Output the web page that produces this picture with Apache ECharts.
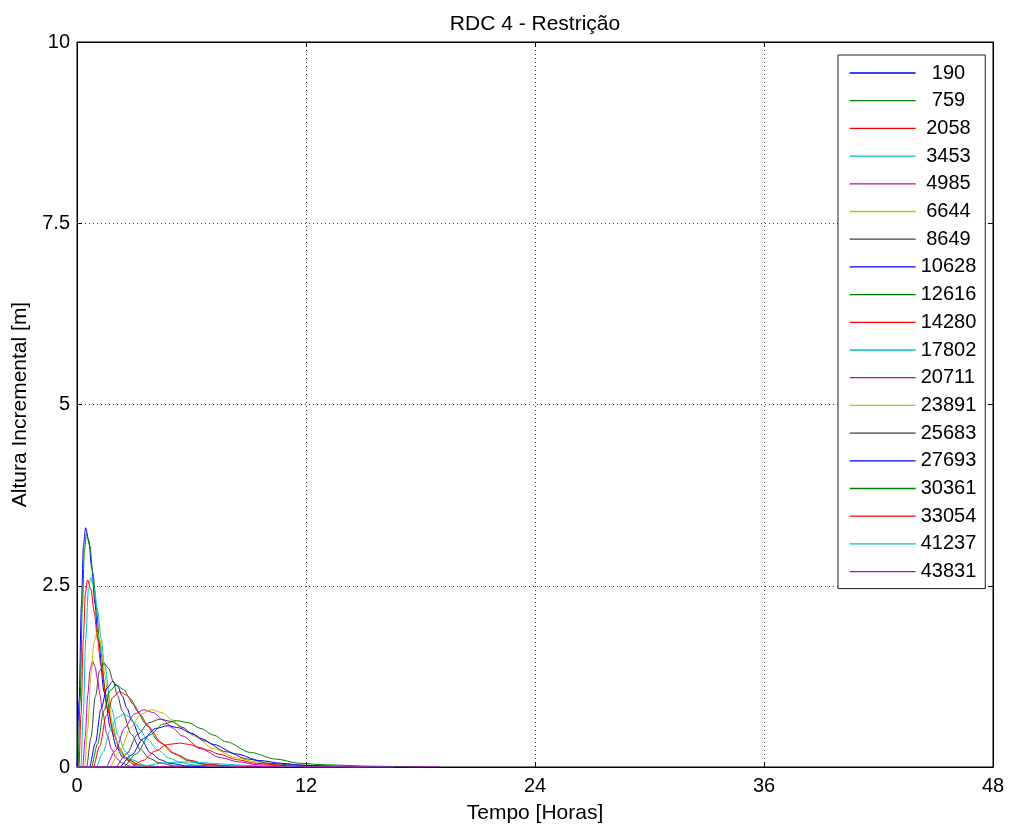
<!DOCTYPE html>
<html>
<head>
<meta charset="utf-8">
<title>RDC 4 - Restrição</title>
<script src="https://cdn.jsdelivr.net/npm/echarts@6/dist/echarts.min.js"></script>
<style>
  html, body { margin: 0; padding: 0; background: #fff; }
  #chart { width: 1011px; height: 829px; }
</style>
</head>
<body>
<div id="chart"></div>
<script>
// Distance of each station (legend entries)
const distances = [190, 759, 2058, 3453, 4985, 6644, 8649, 10628, 12616, 14280,
                   17802, 20711, 23891, 25683, 27693, 30361, 33054, 41237, 43831];

// Hydrographs: [time (h), incremental height (m)]
const h190   = [[0,0],[0.11,0.92],[0.23,2.24],[0.34,3.06],[0.45,3.30],[0.61,3.13],[0.78,2.73],[0.94,2.25],[1.10,1.79],[1.43,1.03],[1.75,0.54],[2.08,0.27],[2.40,0.13],[3.05,0.03],[3.70,0.01],[4.40,0]];
const h759   = [[0,0],[0.05,0],[0.16,0.90],[0.28,2.19],[0.39,2.99],[0.50,3.22],[0.67,3.05],[0.84,2.67],[1.01,2.20],[1.18,1.74],[1.52,1.00],[1.86,0.53],[2.20,0.27],[2.54,0.13],[3.22,0.03],[3.90,0.01],[4.60,0]];
const h2058  = [[0,0],[0.10,0],[0.21,0.72],[0.33,1.75],[0.44,2.39],[0.55,2.58],[0.73,2.45],[0.90,2.14],[1.08,1.76],[1.25,1.40],[1.60,0.80],[1.95,0.43],[2.30,0.21],[2.65,0.10],[3.35,0.02],[4.05,0]];
const h3453  = [[0,0],[0.20,0],[0.33,0.73],[0.46,1.77],[0.59,2.42],[0.72,2.61],[0.90,2.47],[1.08,2.16],[1.26,1.78],[1.44,1.41],[1.80,0.81],[2.16,0.43],[2.52,0.22],[2.88,0.10],[3.60,0.02],[4.32,0]];
const h4985  = [[0,0],[0.30,0],[0.43,0.41],[0.56,0.99],[0.69,1.35],[0.82,1.46],[0.95,1.38],[1.07,1.21],[1.20,1.00],[1.32,0.79],[1.57,0.45],[1.82,0.24],[2.07,0.12],[2.32,0.06],[2.82,0.01],[3.32,0]];
const h6644  = [[0,0],[0.40,0],[0.56,0.52],[0.73,1.26],[0.89,1.72],[1.05,1.86],[1.19,1.76],[1.33,1.54],[1.46,1.27],[1.60,1.01],[1.88,0.58],[2.15,0.31],[2.43,0.15],[2.70,0.07],[3.25,0.02],[3.80,0]];
const h8649  = [[0,0],[0.50,0],[0.73,0.40],[0.96,0.97],[1.19,1.33],[1.42,1.43],[1.66,1.36],[1.90,1.18],[2.13,0.98],[2.37,0.77],[2.85,0.45],[3.32,0.24],[3.80,0.12],[4.27,0.06],[5.22,0.01],[6.17,0]];
const h10628 = [[0,0],[0.65,0],[0.96,0.33],[1.26,0.80],[1.57,1.09],[1.87,1.18],[2.12,1.12],[2.37,0.98],[2.62,0.81],[2.87,0.64],[3.37,0.37],[3.87,0.19],[4.37,0.10],[4.87,0.05],[5.87,0.01],[6.87,0]];
const h12616 = [[0,0],[0.75,0],[1.08,0.32],[1.40,0.77],[1.73,1.05],[2.05,1.13],[2.43,1.07],[2.80,0.94],[3.18,0.77],[3.55,0.61],[4.30,0.35],[5.05,0.19],[5.80,0.09],[6.55,0.04],[8.05,0.01],[9.55,0]];
const h14280 = [[0,0],[0.85,0],[1.19,0.29],[1.54,0.71],[1.88,0.96],[2.22,1.04],[2.60,0.99],[2.97,0.86],[3.35,0.71],[3.72,0.56],[4.47,0.32],[5.22,0.17],[5.97,0.09],[6.72,0.04],[8.22,0.01],[9.72,0]];
const h17802 = [[0,0],[1.00,0],[1.36,0.20],[1.73,0.50],[2.09,0.68],[2.45,0.73],[2.75,0.69],[3.05,0.60],[3.35,0.50],[3.65,0.39],[4.25,0.23],[4.85,0.12],[5.45,0.06],[6.05,0.03],[7.25,0.01],[8.45,0]];
const h20711 = [[0,0],[1.50,0],[2.00,0.22],[2.50,0.54],[3.00,0.73],[3.50,0.79],[4.00,0.75],[4.50,0.65],[5.00,0.54],[5.50,0.43],[6.50,0.25],[7.50,0.13],[8.50,0.07],[9.50,0.03],[11.50,0.01],[13.50,0]];
const h23891 = [[0,0],[1.70,0],[2.25,0.22],[2.80,0.54],[3.35,0.73],[3.90,0.79],[4.45,0.75],[5.00,0.65],[5.55,0.54],[6.10,0.43],[7.20,0.25],[8.30,0.13],[9.40,0.07],[10.50,0.03],[12.70,0.01],[14.90,0]];
const h25683 = [[0,0],[2.00,0],[2.59,0.18],[3.18,0.45],[3.76,0.61],[4.35,0.66],[4.93,0.63],[5.50,0.55],[6.08,0.45],[6.65,0.36],[7.80,0.21],[8.95,0.11],[10.10,0.05],[11.25,0.03],[13.55,0.01],[15.85,0]];
const h27693 = [[0,0],[2.20,0],[2.84,0.16],[3.48,0.39],[4.11,0.53],[4.75,0.57],[5.35,0.54],[5.95,0.47],[6.55,0.39],[7.15,0.31],[8.35,0.18],[9.55,0.09],[10.75,0.05],[11.95,0.02],[14.35,0.005],[16.75,0]];
const h30361 = [[0,0],[2.40,0],[3.10,0.18],[3.80,0.44],[4.50,0.59],[5.20,0.64],[5.85,0.61],[6.50,0.53],[7.15,0.44],[7.80,0.35],[9.10,0.20],[10.40,0.11],[11.70,0.05],[13.00,0.03],[15.60,0.01],[18.20,0]];
const h33054 = [[0,0],[2.80,0],[3.45,0.09],[4.10,0.22],[4.75,0.31],[5.40,0.33],[5.90,0.31],[6.40,0.27],[6.90,0.23],[7.40,0.18],[8.40,0.10],[9.40,0.05],[10.40,0.03],[11.40,0.01],[13.40,0.003],[15.40,0]];
const h41237 = [[0,0],[3.00,0],[3.65,0.020],[4.30,0.048],[4.95,0.065],[5.60,0.070],[6.15,0.066],[6.70,0.058],[7.25,0.048],[7.80,0.038],[8.90,0.022],[10.00,0.012],[11.10,0.006],[12.20,0.003],[14.40,0.001],[16.60,0]];
const h43831 = [[0,0],[3.50,0],[4.25,0.004],[5.00,0.010],[5.75,0.014],[6.50,0.015],[7.13,0.014],[7.75,0.012],[8.38,0.010],[9.00,0.008],[10.25,0.005],[11.50,0.002],[12.75,0.001],[14.00,0.001],[16.50,0],[19.00,0]];

const hydrographs = [h190, h759, h2058, h3453, h4985, h6644, h8649, h10628, h12616, h14280,
                     h17802, h20711, h23891, h25683, h27693, h30361, h33054, h41237, h43831];

// Axis ticks
const xTicks = [0, 12, 24, 36, 48];
const yTicks = [0, 2.5, 5, 7.5, 10];

// Classic line colour order: b g r c m y k
const colorOrder = ['#0000ff', '#008000', '#ff0000', '#00bfbf', '#bf00bf', '#bfbf00', '#404040'];

const FONT = "'Liberation Sans', Arial, sans-serif";
const names = distances.map(d => String(d).padStart(5, ' '));

const chart = echarts.init(document.getElementById('chart'), null, { renderer: 'canvas' });

const series = hydrographs.map((data, i) => ({
  name: names[i],
  type: 'line',
  data: data,
  xAxisIndex: 0,
  yAxisIndex: 0,
  symbol: 'none',
  smooth: 0.3,
  smoothMonotone: 'x',
  clip: true,
  lineStyle: { width: 1, color: colorOrder[i % colorOrder.length] },
  itemStyle: { color: colorOrder[i % colorOrder.length] },
  emphasis: { disabled: true }
}));

const gridLine = { show: true, lineStyle: { color: '#3a3a3a', width: 1, type: [1, 3] } };
const tickIn = { show: true, inside: true, length: 5, lineStyle: { color: '#000' } };

chart.setOption({
  animation: false,
  backgroundColor: '#fff',
  title: {
    text: 'RDC 4 - Restrição',
    left: 530,
    top: 9,
    textAlign: 'center',
    textStyle: { fontFamily: FONT, fontSize: 21, fontWeight: 'normal', color: '#000' }
  },
  grid: {
    left: 77, right: 18, top: 42, bottom: 61,
    show: true, borderColor: '#000', borderWidth: 1, backgroundColor: '#fff'
  },
  legend: {
    orient: 'vertical',
    left: 838,
    top: 55,
    padding: [6, 9, 5, 11],
    itemWidth: 66,
    itemHeight: 14,
    itemGap: 3.7,
    backgroundColor: '#fff',
    borderColor: '#222',
    borderWidth: 1,
    borderRadius: 0,
    selectedMode: false,
    itemStyle: { opacity: 0 },
    lineStyle: { width: 1.3, opacity: 1 },
    textStyle: { fontFamily: FONT, fontSize: 20, color: '#000', lineHeight: 24 },
    data: names
  },
  xAxis: [
    {
      type: 'value', position: 'bottom',
      min: xTicks[0], max: xTicks[xTicks.length - 1], interval: xTicks[1] - xTicks[0],
      name: 'Tempo [Horas]', nameLocation: 'middle', nameGap: 36,
      nameTextStyle: { fontFamily: FONT, fontSize: 21, color: '#000' },
      axisLine: { show: true, onZero: false, lineStyle: { color: '#000', width: 1 } },
      axisTick: tickIn,
      axisLabel: { fontFamily: FONT, fontSize: 20, color: '#000', margin: 9 },
      splitLine: gridLine
    },
    {
      type: 'value', position: 'top',
      min: xTicks[0], max: xTicks[xTicks.length - 1], interval: xTicks[1] - xTicks[0],
      axisLine: { show: true, onZero: false, lineStyle: { color: '#000', width: 1 } },
      axisTick: tickIn,
      axisLabel: { show: false },
      splitLine: { show: false }
    }
  ],
  yAxis: [
    {
      type: 'value', position: 'left',
      min: yTicks[0], max: yTicks[yTicks.length - 1], interval: yTicks[1] - yTicks[0],
      name: 'Altura Incremental [m]', nameLocation: 'middle', nameGap: 46,
      nameTextStyle: { fontFamily: FONT, fontSize: 21, color: '#000' },
      axisLine: { show: true, onZero: false, lineStyle: { color: '#000', width: 1 } },
      axisTick: tickIn,
      axisLabel: { fontFamily: FONT, fontSize: 20, color: '#000', margin: 7 },
      splitLine: gridLine
    },
    {
      type: 'value', position: 'right',
      min: yTicks[0], max: yTicks[yTicks.length - 1], interval: yTicks[1] - yTicks[0],
      axisLine: { show: true, onZero: false, lineStyle: { color: '#000', width: 1 } },
      axisTick: tickIn,
      axisLabel: { show: false },
      splitLine: { show: false }
    }
  ],
  series: series
});
</script>
</body>
</html>
